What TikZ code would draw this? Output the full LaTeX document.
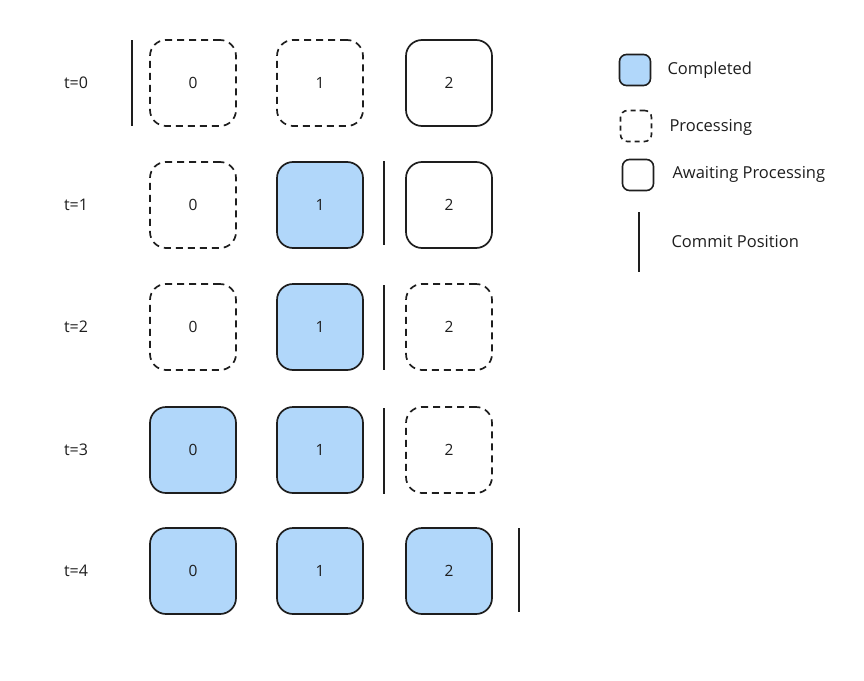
\documentclass[tikz,border=0pt]{standalone}
\usepackage{fontspec}
\setmainfont{Open Sans}
\definecolor{done}{HTML}{B1D7FA}
\definecolor{ink}{HTML}{1E1E1E}
\tikzset{
  cell/.style={draw=ink, line width=1.7pt, rounded corners=16pt, minimum width=86pt, minimum height=86pt, inner sep=0pt, font=\fontsize{15.5}{18}\selectfont, text=ink},
  completed/.style={cell, fill=done},
  processing/.style={cell, dash pattern=on 7pt off 5pt},
  awaiting/.style={cell},
  commitbar/.style={draw=ink, line width=2pt},
  lab/.style={font=\fontsize{16}{18}\selectfont, text=ink, anchor=center},
  legtext/.style={font=\fontsize{16.5}{19}\selectfont, text=ink, anchor=west},
  legbox/.style={draw=ink, line width=1.6pt, rounded corners=7pt, minimum width=31pt, minimum height=31pt, inner sep=0pt}
}
\begin{document}
\begin{tikzpicture}[x=1pt,y=-1pt]
\useasboundingbox (0,0) rectangle (864,680);
% row labels
\node[lab] (l0) at (76,83) {t=0};
\node[lab] (l1) at (76,205) {t=1};
\node[lab] (l2) at (76,327) {t=2};
\node[lab] (l3) at (76,450) {t=3};
\node[lab] (l4) at (76,571) {t=4};
% t=0
\node[processing] (a0) at (193,83) {0};
\node[processing] (a1) at (320,83) {1};
\node[awaiting]   (a2) at (449,83) {2};
\coordinate (c0t) at (132,40); \coordinate (c0b) at (132,126);
\draw[commitbar] (c0t) -- (c0b);
% t=1
\node[processing] (b0) at (193,205) {0};
\node[completed]  (b1) at (320,205) {1};
\node[awaiting]   (b2) at (449,205) {2};
\coordinate (c1t) at (384,161); \coordinate (c1b) at (384,245);
\draw[commitbar] (c1t) -- (c1b);
% t=2
\node[processing] (d0) at (193,327) {0};
\node[completed]  (d1) at (320,327) {1};
\node[processing] (d2) at (449,327) {2};
\coordinate (c2t) at (384,285); \coordinate (c2b) at (384,370);
\draw[commitbar] (c2t) -- (c2b);
% t=3
\node[completed]  (e0) at (193,450) {0};
\node[completed]  (e1) at (320,450) {1};
\node[processing] (e2) at (449,450) {2};
\coordinate (c3t) at (384,408); \coordinate (c3b) at (384,494);
\draw[commitbar] (c3t) -- (c3b);
% t=4
\node[completed]  (f0) at (193,571) {0};
\node[completed]  (f1) at (320,571) {1};
\node[completed]  (f2) at (449,571) {2};
\coordinate (c4t) at (519,528); \coordinate (c4b) at (519,612);
\draw[commitbar] (c4t) -- (c4b);
% legend
\node[legbox, fill=done] (k1) at (635,70) {};
\node[legtext] (t1) at (664,70) {Completed};
\node[legbox, dash pattern=on 5pt off 4pt] (k2) at (636,126) {};
\node[legtext] (t2) at (666,127) {Processing};
\node[legbox] (k3) at (638,175) {};
\node[legtext] (t3) at (669,174) {Awaiting Processing};
\coordinate (kt) at (639,212); \coordinate (kb) at (639,272);
\draw[commitbar] (kt) -- (kb);
\node[legtext] (t4) at (668,242) {Commit Position};
\end{tikzpicture}
\end{document}
